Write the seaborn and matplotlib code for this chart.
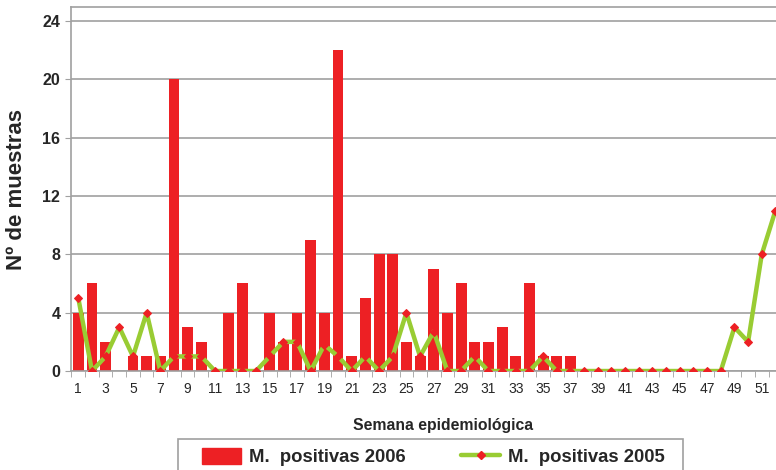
import numpy as np
import seaborn as sns
import matplotlib.pyplot as plt
import matplotlib.patches as mpatches
from matplotlib.lines import Line2D
import pandas as pd

# Semana epidemiologica 1..52
semanas = list(range(1, 53))
# Muestras positivas 2006 (barras)
pos_2006 = [4, 6, 2, 0, 1, 1, 1, 20, 3, 2, 0, 4, 6, 0, 4, 2, 4, 9, 4, 22,
            1, 5, 8, 8, 2, 1, 7, 4, 6, 2, 2, 3, 1, 6, 1, 1, 1, 0, 0, 0,
            0, 0, 0, 0, 0, 0, 0, 0, 0, 0, 0, 0]
# Muestras positivas 2005 (linea)
pos_2005 = [5, 0, 1, 3, 1, 4, 0, 1, 1, 1, 0, 0, 0, 0, 1, 2, 2, 0, 1.8, 1,
            0, 1, 0, 1, 4, 1, 2.7, 0, 0, 1, 0, 0, 0, 0, 1, 0, 0, 0, 0, 0,
            0, 0, 0, 0, 0, 0, 0, 0, 3, 2, 8, 11]
y_ticks = [0, 4, 8, 12, 16, 20, 24]

df = pd.DataFrame({'semana': semanas, 'p2006': pos_2006, 'p2005': pos_2005})

rojo = '#ED2024'
verde = '#99CC33'
gris = '#A0A0A0'

sns.set_style('white')
plt.rcParams['font.family'] = ['Liberation Sans', 'DejaVu Sans']

fig = plt.figure(figsize=(7.76, 4.70), dpi=100)
ax = fig.add_axes([0.0921, 0.2106, 0.916, 0.7745])

sns.barplot(data=df, x='semana', y='p2006', native_scale=True, color=rojo,
            saturation=1, width=0.8, linewidth=0, ax=ax, zorder=2)
sns.lineplot(data=df, x='semana', y='p2005', color=verde, linewidth=3.2,
             marker='D', markersize=4.5, markerfacecolor=rojo,
             markeredgecolor=rojo, ax=ax, zorder=3)

ax.set_xlim(0.5, 52.5)
ax.set_ylim(0, 24.95)
ax.set_yticks(y_ticks)
ax.set_yticklabels([str(v) for v in y_ticks], fontsize=11.5, fontweight='bold')
ax.set_xticks(semanas[::2])
ax.set_xticklabels([str(s) for s in semanas[::2]], fontsize=10)
ax.set_xticks(np.array(semanas + [53]) - 0.5, minor=True)
ax.tick_params(axis='x', which='major', length=0, pad=8)
ax.tick_params(axis='x', which='minor', length=4, color=gris, direction='out', bottom=True)
ax.tick_params(axis='y', length=4, color=gris, direction='out', left=True, pad=4)

ax.grid(axis='y', color=gris, linewidth=1.2, zorder=0)
ax.set_axisbelow(True)
for s in ax.spines.values():
    s.set_color(gris)
    s.set_linewidth(1.2)

ax.set_ylabel('Nº de muestras', fontsize=16, fontweight='bold')
ax.yaxis.set_label_coords(-0.063, 0.5)
ax.set_xlabel('Semana epidemiológica', fontsize=11.3, fontweight='bold')
ax.xaxis.set_label_coords(0.5227, -0.13)

# caja de la leyenda (se sale por abajo como en el original)
caja = mpatches.Rectangle((178 / 776, -0.05), (683 - 178) / 776, 0.05 + 31 / 470,
                          transform=fig.transFigure, facecolor='white',
                          edgecolor=gris, linewidth=1.2)
fig.patches.append(caja)

handles = [mpatches.Patch(color=rojo, label='M.  positivas 2006'),
           Line2D([0], [0], color=verde, linewidth=3.2, marker='D', markersize=4.5,
                  markerfacecolor=rojo, markeredgecolor=rojo, label='M.  positivas 2005')]
leg = fig.legend(handles=handles, loc='center left', bbox_to_anchor=(202 / 776, 13 / 470),
                 ncol=2, frameon=False, prop={'weight': 'bold', 'size': 13.3},
                 handlelength=2.1, handleheight=1.0, handletextpad=0.45,
                 columnspacing=3.0, borderpad=0, borderaxespad=0)

fig.savefig('out.png', dpi=100)
